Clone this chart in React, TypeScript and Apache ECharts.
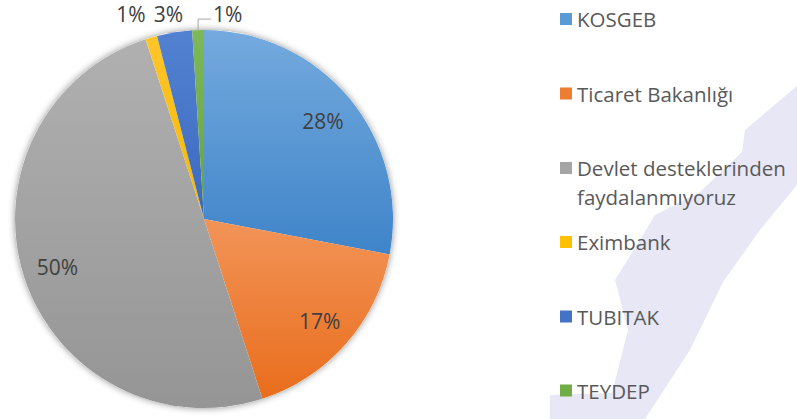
import React, { useEffect, useRef } from "react";
import * as echarts from "echarts";

const categories = [
  "KOSGEB",
  "Ticaret Bakanlığı",
  "Devlet desteklerinden faydalanmıyoruz",
  "Eximbank",
  "TUBITAK",
  "TEYDEP",
];
const values = [28, 17, 50, 1, 3, 1];
const colorsTop = ["#74aade", "#f29458", "#b0b0b0", "#ffc52a", "#5482d2", "#7db85a"];
const colorsBottom = ["#3f84c9", "#e96d1c", "#959595", "#f5b800", "#3a68bd", "#65a23c"];
const legendColors = ["#5b9bd5", "#ed7d31", "#a5a5a5", "#ffc000", "#4472c4", "#70ad47"];

const FONT = "'Open Sans', 'Noto Sans', sans-serif";

export default function App() {
  const ref = useRef<HTMLDivElement>(null);

  useEffect(() => {
    document.body.style.margin = "0";
    if (!ref.current) return;
    const chart = echarts.init(ref.current, undefined, { renderer: "svg" });
    const cx = 204;
    const cy = 219;
    const R = 189;

    const grad = (i: number) =>
      new echarts.graphic.LinearGradient(0, 0, 0, 1, [
        { offset: 0, color: colorsTop[i] },
        { offset: 1, color: colorsBottom[i] },
      ]);

    const total = values.reduce((a, b) => a + b, 0);
    const isSmall = (v: number) => (v / total) * 100 < 5;

    const mainData = categories.map((name, i) => ({
      name,
      value: values[i],
      itemStyle: { color: grad(i) },
      label: { show: isSmall(values[i]) },
      labelLine: {
        show: isSmall(values[i]),
        lineStyle: {
          color: name === "TEYDEP" ? "#a6a6a6" : "rgba(0,0,0,0)",
          width: 1,
        },
      },
    }));

    const overlayData = categories.map((name, i) => ({
      name,
      value: values[i],
      label: { show: !isSmall(values[i]) },
    }));

    const legendTops = [8, 82.5, 153.5, 231, 305.5, 379.5];
    const legends = categories.map((name, i) => {
      const multi = name.indexOf("Devlet") === 0;
      return {
        data: [{ name, itemStyle: { color: legendColors[i] } }],
        left: 560,
        top: legendTops[i],
        orient: "vertical",
        icon: multi ? "path://M0,0H12V12H0Z M0,40.95H0.05V41H0Z" : "rect",
        itemWidth: 12,
        itemHeight: multi ? 41 : 12,
        padding: 0,
        selectedMode: false,
        formatter: multi
          ? () => "Devlet desteklerinden\nfaydalanmıyoruz"
          : undefined,
        textStyle: {
          fontSize: 20.5,
          color: "#595959",
          fontFamily: FONT,
          lineHeight: multi ? 29 : 22,
        },
      };
    });

    chart.setOption({
      animation: false,
      backgroundColor: "#ffffff",
      graphic: [
        {
          type: "polygon",
          z: 0,
          silent: true,
          shape: {
            points: [
              [797, 86],
              [745, 130],
              [742, 152],
              [700, 192],
              [655, 215],
              [640, 240],
              [615, 280],
              [628, 330],
              [612, 393],
              [550, 395],
              [550, 419],
              [645, 419],
              [690, 350],
              [723, 282],
              [760, 230],
              [797, 185],
            ],
          },
          style: { fill: "#e7e7f5" },
        },
      ],
      legend: legends,
      series: [
        {
          type: "pie",
          z: 1,
          center: [cx, cy],
          radius: R,
          silent: true,
          label: { show: false },
          labelLine: { show: false },
          data: [
            {
              value: 1,
              name: "__shadow",
              itemStyle: {
                color: "#ffffff",
                shadowBlur: 7,
                shadowColor: "rgba(0,0,0,0.45)",
              },
            },
          ],
        },
        {
          type: "pie",
          z: 2,
          center: [cx, cy],
          radius: R,
          startAngle: 90,
          clockwise: true,
          silent: true,
          avoidLabelOverlap: false,
          itemStyle: { borderWidth: 0 },
          label: {
            position: "outside",
            fontSize: 21,
            lineHeight: 21,
            color: "#404040",
            fontFamily: FONT,
            formatter: (p: any) => Math.round(p.percent) + "%",
          },
          labelLine: { length: 19, length2: 0 },
          labelLayout: (p: any) => {
            const pts = p.labelLinePoints;
            if (!pts) return {};
            const name = categories[p.dataIndex];
            const p0 = pts[0];
            const p1 = pts[1];
            if (name === "TEYDEP") {
              const ey = p0[1] - 11;
              return {
                x: p0[0] + 15,
                y: ey - 5,
                align: "left",
                verticalAlign: "middle",
                labelLinePoints: [
                  [p0[0], p0[1]],
                  [p0[0], ey],
                  [p0[0] + 13, ey],
                ],
              };
            }
            if (name === "Eximbank") {
              return { x: p1[0] - 15, y: p1[1] - 5, align: "center", verticalAlign: "middle" };
            }
            return { x: p1[0] - 3, y: p1[1], align: "center", verticalAlign: "middle" };
          },
          data: mainData,
        },
        {
          type: "pie",
          z: 3,
          center: [cx, cy],
          radius: [R * 0.6, R],
          startAngle: 90,
          clockwise: true,
          silent: true,
          itemStyle: { color: "rgba(0,0,0,0)" },
          label: {
            position: "inside",
            fontSize: 21,
            color: "#404040",
            fontFamily: FONT,
            formatter: (p: any) => Math.round(p.percent) + "%",
          },
          labelLine: { show: false },
          emphasis: { disabled: true },
          data: overlayData,
        },
      ],
    });

    return () => chart.dispose();
  }, []);

  return <div ref={ref} style={{ width: 797, height: 419 }} />;
}
